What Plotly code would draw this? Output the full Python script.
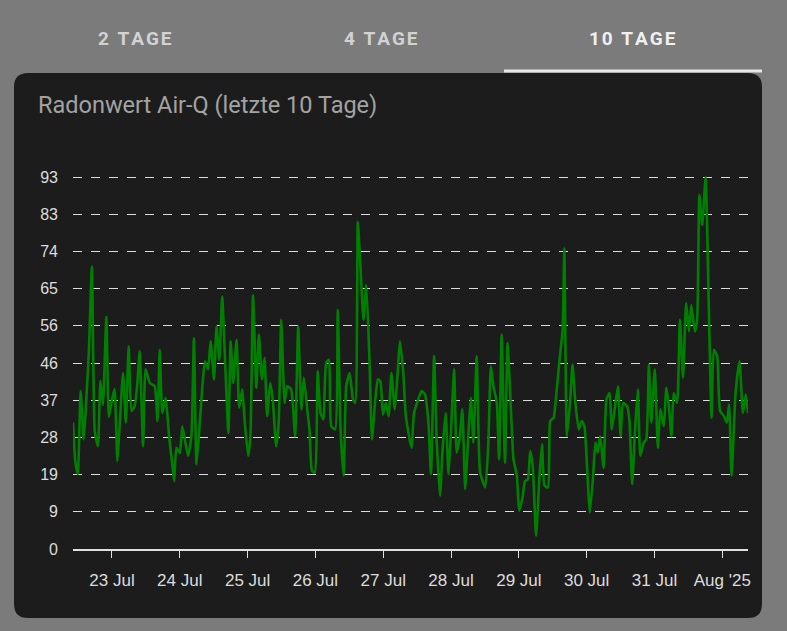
import datetime as dt
import plotly.graph_objects as go

# hours since 22 Jul 2025 00:00, radon values
hours = [
    10.2, 11, 11.9, 12.9, 14, 14.9, 15.8, 16.9, 17.9, 19, 19.9, 20.8, 22, 22.9, 24, 24.9,
    25.9, 26.7, 27.9, 28.9, 29.9, 30.9, 32, 32.9, 33.8, 35, 35.9, 37.4, 39.1, 40.1, 40.9,
    41.8, 43, 44.2, 45.4, 46, 46.8, 48, 48.9, 50.9, 52.1, 53, 53.9, 54.9, 56, 56.9, 58,
    58.9, 60.1, 61, 62, 63, 64, 65.2, 66, 66.9, 68.1, 69, 70.1, 71, 72.2, 73, 73.9, 75.1,
    76, 77.1, 78, 78.9, 80, 80.9, 82.1, 83, 83.9, 85.1, 86, 87.4, 88.8, 89.9, 91, 91.9,
    93.1, 93.9, 94.8, 95.8, 96.8, 97.8, 98.8, 99.8, 100.8, 101.6, 103, 103.9, 104.9, 106,
    106.9, 108.1, 109.3, 110.1, 111, 112, 113, 114, 115.2, 116, 117.2, 118.1, 119, 119.9,
    120.9, 121.9, 122.9, 124.1, 125.1, 125.9, 127.1, 128, 130, 130.9, 132.4, 133.6, 134.8,
    136, 136.9, 138, 138.9, 140.1, 141, 142.1, 143.1, 143.9, 145.1, 146, 147, 148, 149,
    150.1, 151, 151.9, 153.1, 154.3, 156.1, 157.2, 158.1, 159, 160.2, 161, 161.9, 163.1,
    164, 165.3, 166.1, 167.3, 168.1, 169.3, 170.2, 171.2, 172, 172.9, 174.1, 175.3, 176.2,
    177.1, 178.3, 179.1, 180.3, 181.2, 182.4, 183.5, 184.1, 185, 186.2, 187, 188, 189.2,
    190.3, 191.2, 192.3, 193.1, 194.2, 195.1, 195.9, 196.8, 198, 199, 200.1, 200.9, 202.2,
    203.1, 204, 204.9, 206.3, 207.1, 208.1, 209, 210.1, 211, 212.2, 213.1, 214, 214.9,
    216.1, 217.2, 218.1, 219.3, 220.2, 221.1, 222, 222.8, 224, 225, 226.1, 227.2, 228.2,
    229, 230.3, 231.1, 231.9, 232.9, 234.1, 235.2, 236.2, 237, 238.2, 239.2, 240.6, 241.6,
    242.4, 243.3, 244.7, 246.1, 247.3, 248.3, 249.1,
]
radon = [
    31.6, 22, 18.7, 39.5, 27.4, 37.4, 49, 70.6, 29.5, 25.7, 42, 36, 58, 33, 37.4, 40,
    22, 30.7, 44, 31.6, 50.7, 34.5, 35.7, 40.7, 49.4, 25.7, 44.9, 41.5, 40.7, 32, 49.8,
    34, 37.8, 28.2, 20.8, 17, 25.3, 24, 30.7, 23.3, 28.2, 52.7, 21.2, 29.9, 40.7, 46.9, 44.9,
    51.9, 42.4, 55.6, 47.3, 63.1, 47.3, 29, 51.9, 41.5, 52.3, 35.3, 39.9, 31.6, 23.3, 28.2, 63.5, 40.3,
    53.6, 42.4, 47.8, 33.2, 41.5, 37.4, 25.7, 31.6, 57.3, 36.5, 40.7, 39.9, 28.2, 55.6, 34.9, 42.8,
    34.9, 29.9, 19.5, 19.1, 44.4, 34, 32.4, 46.5, 47.3, 30.7, 29.9, 59.8, 29.9, 18.3,
    40.7, 44, 37.4, 36.5, 81.8, 69.8, 57.3, 66, 45.7, 27.4, 37.4, 42.4, 41.9, 33.6,
    36.5, 33.2, 44, 34.9, 44, 51.9, 44, 33.2, 25.3, 34, 37.4, 39.5, 38.6,
    31.6, 18.7, 48.2, 27.4, 13.3, 24.9, 34, 18.7, 28.2, 44.9, 24.1, 27.4, 34.9, 15,
    28.2, 37.8, 26.6, 48.2, 19.1, 15.4, 26.6, 45.7, 40.7, 36.5, 22.4, 53.6, 21.6,
    51.5, 33.2, 22.4, 18.3, 9.6, 12.9, 17, 17.4, 24.5, 20.8, 3.3, 18.3, 26.2,
    15.8, 15.4, 32, 32.8, 38.2, 47.3, 54.8, 75.2, 28.2, 37.4, 46.1, 36.5, 29.9,
    32, 30.7, 18.3, 9.1, 17.4, 26.6, 24.1, 28.2, 20.3, 37.4, 39, 29.9, 36.5,
    40.7, 28.2, 36.5, 35.7, 32.4, 16.2, 28.2, 39.9, 23.3, 26.6, 27.4, 46.1, 31.6,
    44.9, 25.3, 34.9, 30.7, 40.3, 35.7, 28.2, 39, 36.5, 57.3, 42.8, 61.5, 54.4,
    61, 54.4, 57.3, 88.5, 81, 93, 61.5, 32.8, 49.8, 48.2, 34.5, 33.2, 31.6,
    36.1, 18.3, 39, 46.9, 34, 38.6, 34,
]
y_ticks = [0, 9.3, 18.6, 27.9, 37.2, 46.5, 55.8, 65.1, 74.4, 83.7, 93]
y_labels = ["0", "9", "19", "28", "37", "46", "56", "65", "74", "83", "93"]
x_labels = ["23 Jul", "24 Jul", "25 Jul", "26 Jul", "27 Jul", "28 Jul",
            "29 Jul", "30 Jul", "31 Jul", "Aug '25"]
tabs = ["2 TAGE", "4 TAGE", "10 TAGE"]

base = dt.datetime(2025, 7, 22)
times = [base + dt.timedelta(hours=h) for h in hours]
x_ticks = [base + dt.timedelta(days=d + 1) for d in range(len(x_labels))]

W, H = 787, 631
ml, mr, mt, mb = 73, 39, 175, 82
pw, ph = W - ml - mr, H - mt - mb
y_top = 93 * ph / (H - mb - 177)  # 93 sits at y=177 px


def px(x):
    return (x - ml) / pw


def py(y):
    return (H - mb - y) / ph


fig = go.Figure()
fig.add_trace(go.Scatter(
    x=times, y=radon, mode="lines",
    line=dict(color="#008000", width=2.6, shape="spline", smoothing=0.5),
    hoverinfo="skip", showlegend=False,
))

# card with rounded corners
r = 14
x0, x1, y0, y1 = 14, 762, 73, 618
card = (
    f"M {px(x0 + r)} {py(y0)} L {px(x1 - r)} {py(y0)} "
    f"Q {px(x1)} {py(y0)} {px(x1)} {py(y0 + r)} L {px(x1)} {py(y1 - r)} "
    f"Q {px(x1)} {py(y1)} {px(x1 - r)} {py(y1)} L {px(x0 + r)} {py(y1)} "
    f"Q {px(x0)} {py(y1)} {px(x0)} {py(y1 - r)} L {px(x0)} {py(y0 + r)} "
    f"Q {px(x0)} {py(y0)} {px(x0 + r)} {py(y0)} Z"
)
fig.add_shape(type="path", xref="paper", yref="paper", layer="below",
              path=card, fillcolor="#1c1c1c", line=dict(width=0))
fig.add_shape(type="line", xref="paper", yref="paper", layer="above",
              x0=px(504), x1=px(762), y0=py(71), y1=py(71),
              line=dict(color="#e6e6e6", width=3))

fig.add_annotation(text="Radonwert Air-Q (letzte 10 Tage)", xref="paper", yref="paper",
                   x=px(36), y=py(105), xanchor="left", yanchor="middle", showarrow=False,
                   font=dict(family="Roboto", size=23.5, color="#a3a3a3"))
for t, cx in zip(tabs, [135, 381, 632]):
    spaced = "\u200a".join(t)
    fig.add_annotation(text=f"<b>{spaced}</b>", xref="paper", yref="paper",
                       x=px(cx), y=py(38), xanchor="center", yanchor="middle",
                       showarrow=False,
                       font=dict(family="Roboto", size=19,
                                 color="#f0f0f0" if t == "10 TAGE" else "#d2d2d2"))

fig.update_layout(
    width=W, height=H,
    margin=dict(l=ml, r=mr, t=mt, b=mb),
    paper_bgcolor="#7b7b7b", plot_bgcolor="rgba(0,0,0,0)",
    font=dict(family="Arial", size=17, color="#dcdcdc"),
    xaxis=dict(
        range=[base + dt.timedelta(hours=10.2), base + dt.timedelta(hours=249.1)],
        tickvals=x_ticks, ticktext=x_labels, showgrid=False,
        ticks="outside", ticklen=7, tickcolor="#e0e0e0", tickwidth=1,
        showline=True, linecolor="#e0e0e0", linewidth=1.5, zeroline=False,
        ticklabelstandoff=8, tickfont=dict(size=17),
    ),
    yaxis=dict(
        range=[0, y_top], tickvals=y_ticks, ticktext=y_labels,
        showgrid=True, gridcolor="#dcdcdc", griddash="dash", gridwidth=1,
        zeroline=False, ticks="", ticklabelstandoff=14, tickfont=dict(size=16),
    ),
)
fig.write_html("out.html", config={"displayModeBar": False},
               post_script="document.body.style.margin='0';")
